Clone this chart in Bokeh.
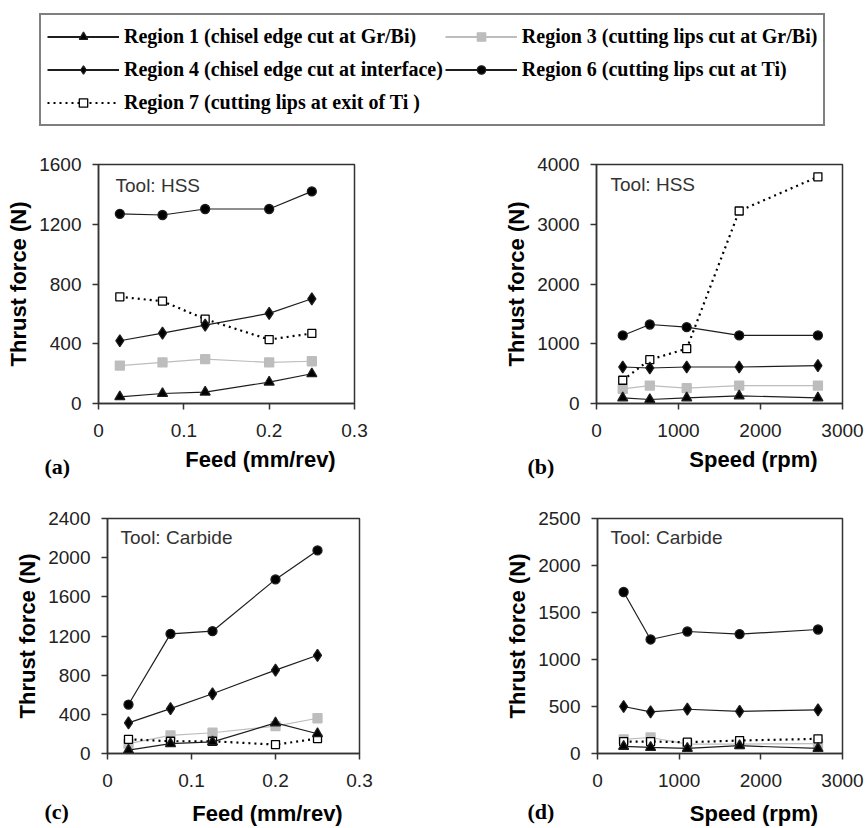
import numpy as np
from bokeh.plotting import figure
from bokeh.models import Range1d, FixedTicker, NumeralTickFormatter, Label, Legend, LegendItem
from bokeh.layouts import column, row
from bokeh.embed import file_html
from bokeh.resources import INLINE

# ---------------- data ----------------
FEED = [0.025, 0.075, 0.125, 0.2, 0.25]          # mm/rev
SPEED = [320, 650, 1100, 1740, 2700]             # rpm

# (a) HSS, thrust vs feed
R1_a = [45, 67, 76, 143, 199]
R3_a = [254, 275, 297, 275, 283]
R4_a = [420, 471, 525, 603, 701]
R6_a = [1270, 1262, 1302, 1302, 1420]
R7_a = [714, 685, 565, 428, 469]

# (b) HSS, thrust vs speed
R1_b = [94, 67, 94, 128, 94]
R3_b = [244, 300, 256, 300, 300]
R4_b = [611, 594, 611, 611, 633]
R6_b = [1139, 1322, 1278, 1139, 1139]
R7_b = [389, 733, 917, 3222, 3794]

# (c) Carbide, thrust vs feed
R1_c = [34, 100, 118, 313, 202]
R3_c = [100, 185, 212, 279, 360]
R4_c = [313, 458, 610, 852, 1003]
R6_c = [500, 1222, 1249, 1778, 2074]
R7_c = [145, 125, 125, 91, 152]

# (d) Carbide, thrust vs speed
R1_d = [76, 65, 54, 83, 54]
R3_d = [150, 170, 100, 100, 105]
R4_d = [500, 442, 471, 449, 464]
R6_d = [1718, 1213, 1298, 1270, 1319]
R7_d = [127, 127, 120, 138, 156]

LEGEND_LABELS = [
    "Region 1 (chisel edge cut at Gr/Bi)",
    "Region 3 (cutting lips cut at Gr/Bi)",
    "Region 4 (chisel edge cut at interface)",
    "Region 6 (cutting lips cut at Ti)",
    "Region 7 (cutting lips at exit of Ti )",
]

FEED_TICKS = [0, 0.1, 0.2, 0.3]
SPEED_TICKS = [0, 1000, 2000, 3000]
YT_a = [0, 400, 800, 1200, 1600]
YT_b = [0, 1000, 2000, 3000, 4000]
YT_c = [0, 400, 800, 1200, 1600, 2000, 2400]
YT_d = [0, 500, 1000, 1500, 2000, 2500]

# ---------------- styles ----------------
SANS = "Liberation Sans"
SERIF = "Liberation Serif"
GRAY = "#bdbdbd"
DARK = "#1e1e1e"

STYLE = {
    "R1": dict(color=DARK, marker="triangle", size=10, fill="black", dash="solid", lw=1.2),
    "R3": dict(color=GRAY, marker="square", size=9, fill=GRAY, dash="solid", lw=1.2),
    "R4": dict(color=DARK, marker="diamond", size=12, fill="black", dash="solid", lw=1.2),
    "R6": dict(color=DARK, marker="circle", size=9, fill="black", dash="solid", lw=1.2),
    "R7": dict(color="black", marker="square", size=8, fill="white", dash="2 4", lw=2.2),
}
ORDER = ["R3", "R7", "R1", "R4", "R6"]


def add_series(p, x, y, key, lw=None):
    s = STYLE[key]
    r1 = p.line(x, y, line_color=s["color"], line_width=lw or s["lw"], line_dash=s["dash"])
    r2 = p.scatter(x, y, marker=s["marker"], size=s["size"],
                   fill_color=s["fill"], line_color=s["color"] if key != "R7" else "black",
                   line_width=1.3)
    return [r1, r2]


def blank(width, height, mb=(0, 0, 0, 0)):
    p = figure(width=width, height=height, output_backend="svg", toolbar_location=None,
               x_range=Range1d(0, 1), y_range=Range1d(-2, -1),
               x_axis_location=None, y_axis_location=None,
               min_border_left=mb[0], min_border_right=mb[1],
               min_border_top=mb[2], min_border_bottom=mb[3])
    p.grid.visible = False
    p.outline_line_color = None
    p.background_fill_color = "white"
    p.border_fill_color = "white"
    return p


def panel(width, height, mb, xr, yr, xticks, yticks, xfmt, tool, tool_xy, series, x):
    p = figure(width=width, height=height, output_backend="svg", toolbar_location=None,
               x_range=Range1d(*xr), y_range=Range1d(*yr),
               min_border_left=mb[0], min_border_right=mb[1],
               min_border_top=mb[2], min_border_bottom=mb[3])
    p.background_fill_color = "white"
    p.border_fill_color = "white"
    p.grid.visible = False
    p.outline_line_color = "#333333"
    p.outline_line_width = 1.5
    for ax in (p.xaxis[0], p.yaxis[0]):
        ax.axis_line_color = "#333333"
        ax.axis_line_width = 1.5
        ax.major_tick_line_color = "#333333"
        ax.major_tick_line_width = 1.5
        ax.major_tick_in = 0
        ax.major_tick_out = 6
        ax.minor_tick_line_color = None
        ax.major_label_text_font = SANS
        ax.major_label_text_font_size = "19px"
        ax.major_label_text_color = "#222222"
        ax.axis_label_text_font = SANS
        ax.axis_label_text_font_style = "bold"
        ax.axis_label_text_font_size = "22px"
        ax.axis_label_text_color = "black"
    p.xaxis.ticker = FixedTicker(ticks=xticks)
    p.yaxis.ticker = FixedTicker(ticks=yticks)
    p.xaxis.formatter = NumeralTickFormatter(format=xfmt)
    p.yaxis.formatter = NumeralTickFormatter(format="0")
    p.xaxis.major_label_standoff = 14
    p.yaxis.major_label_standoff = 11
    p.yaxis.axis_label_standoff = 5
    p.yaxis.axis_label = "Thrust force (N)"

    for key in ORDER:
        add_series(p, x, series[key], key)

    frame_h = height - mb[2] - mb[3]
    p.add_layout(Label(x=tool_xy[0], y=frame_h - tool_xy[1], x_units="screen", y_units="screen",
                       text=tool, text_font=SANS, text_font_size="19px", text_color="#333333",
                       text_baseline="middle"))
    return p


W_L, W_R = 430, 434
# frame edges on the page (left, right)
FA = (98, 354)
FB = (596, 842)
FC = (107, 359)
FD = (597, 842)

# legend block: page y 0..140
pl = blank(W_L + W_R, 140, mb=(34, 0, 8, 0))
items = []
for key, lab, ys in zip(["R1", "R3", "R4", "R6", "R7"], LEGEND_LABELS, [R1_a, R3_a, R4_a, R6_a, R7_a]):
    rs = add_series(pl, FEED, ys, key, lw=2.0 if key != "R7" else 2.2)
    items.append(LegendItem(label=lab, renderers=rs))
leg = Legend(items=items, location="top_left", orientation="horizontal", ncols=2,
             margin=5, padding=6, spacing=2, glyph_width=72, glyph_height=21,
             label_height=31, label_standoff=5,
             label_text_font=SERIF, label_text_font_style="bold", label_text_font_size="20px",
             label_text_color="black", label_text_baseline="middle",
             border_line_color="black", border_line_width=2, background_fill_color="white",
             background_fill_alpha=1.0)
pl.add_layout(leg, "center")

# row 1: page y 140..445
pa = panel(W_L, 305, (FA[0], W_L - FA[1], 24, 42), (0, 0.3), (0, 1600), FEED_TICKS, YT_a, "0.[0]",
           "Tool: HSS", (17, 21), dict(R1=R1_a, R3=R3_a, R4=R4_a, R6=R6_a, R7=R7_a), FEED)
pb = panel(W_R, 305, (FB[0] - W_L, W_L + W_R - FB[1], 24, 42), (0, 3000), (0, 4000), SPEED_TICKS, YT_b, "0",
           "Tool: HSS", (14, 20), dict(R1=R1_b, R3=R3_b, R4=R4_b, R6=R6_b, R7=R7_b), SPEED)


# strips holding axis titles and panel tags
def titles_strip(height, items_):
    s = blank(W_L + W_R, height)
    for txt, xx, yy, font, size, align in items_:
        s.add_layout(Label(x=xx, y=yy, x_units="screen", y_units="screen", text=txt,
                           text_font=font, text_font_style="bold", text_font_size=size,
                           text_color="black", text_align=align, text_baseline="middle"))
    return s


# page y 445..480
s1 = titles_strip(35, [
    ("Feed (mm/rev)", (FA[0] + FA[1]) / 2, 21, SANS, "22px", "center"),
    ("(a)", 10, 14, SERIF, "22px", "left"),
    ("Speed (rpm)", (FB[0] + FB[1]) / 2, 21, SANS, "22px", "center"),
    ("(b)", 493, 14, SERIF, "22px", "left"),
])

# row 2: page y 480..797
pc = panel(W_L, 317, (FC[0], W_L - FC[1], 38, 44), (0, 0.3), (0, 2400), FEED_TICKS, YT_c, "0.[0]",
           "Tool: Carbide", (13, 19), dict(R1=R1_c, R3=R3_c, R4=R4_c, R6=R6_c, R7=R7_c), FEED)
pd_ = panel(W_R, 317, (FD[0] - W_L, W_L + W_R - FD[1], 38, 44), (0, 3000), (0, 2500), SPEED_TICKS, YT_d, "0",
            "Tool: Carbide", (13, 19), dict(R1=R1_d, R3=R3_d, R4=R4_d, R6=R6_d, R7=R7_d), SPEED)

# page y 797..828
s2 = titles_strip(31, [
    ("Feed (mm/rev)", (FC[0] + FC[1]) / 2, 15, SANS, "22px", "center"),
    ("(c)", 10, 17, SERIF, "22px", "left"),
    ("Speed (rpm)", (FD[0] + FD[1]) / 2, 15, SANS, "22px", "center"),
    ("(d)", 493, 17, SERIF, "22px", "left"),
])

layout = column(pl, row(pa, pb), s1, row(pc, pd_), s2)
open("out.html", "w").write(file_html(layout, INLINE))
